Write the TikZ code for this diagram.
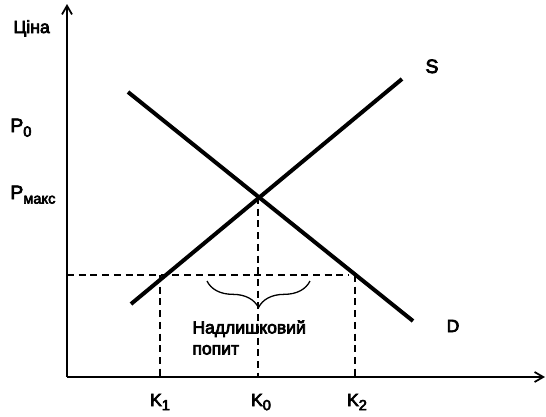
\documentclass[tikz,border=0pt]{standalone}
\usepackage{fontspec}
\setmainfont{Liberation Sans}
\newfontfamily\lblfont{Liberation Sans}[RawFeature={embolden=4}]
\usetikzlibrary{positioning,arrows.meta,decorations.pathreplacing}
\newcommand{\lowidx}[1]{\raisebox{-0.45ex}{\fontsize{12.5}{12}\selectfont #1}}

\begin{document}
\begin{tikzpicture}[x=0.03cm,y=-0.03cm,font=\lblfont\fontsize{15}{18}\selectfont,
  axis/.style ={line width=1.7pt,-{Straight Barb[length=2.6mm,width=3mm,line width=1.5pt]}},
  curve/.style={line width=3.4pt},
  guide/.style={line width=1.1pt,dash pattern=on 6pt off 4pt},
  lab/.style  ={inner sep=1pt},
  big/.style  ={lab,font=\lblfont\fontsize{16.5}{18}\selectfont},
  brc/.style  ={line width=1.1pt,decorate,decoration={brace,amplitude=0.8cm}}]
\useasboundingbox (0,0) rectangle (546,417);

% axes
\coordinate (O)    at (67,377);
\coordinate (ytop) at (67,4);
\coordinate (xend) at (545,377);
\draw[axis] (O) -- (ytop);
\draw[axis] (O) -- (xend);

% supply and demand
\coordinate (s1) at (131,304);
\coordinate (s2) at (402,79);
\coordinate (d1) at (128,92);
\coordinate (d2) at (413,321);
\draw[curve] (s1) -- (s2);
\draw[curve] (d1) -- (d2);
\coordinate (E) at (258,197);

% price ceiling and quantities
\coordinate (pm) at (67,275);
\coordinate (k1) at (160,275);
\coordinate (k2) at (355,275);
\coordinate (pe) at (349,275);
\draw[guide] (pm) -- (pe);
\draw[guide] (E) -- (E |- O);
\draw[guide] (k1) -- (k1 |- O);
\draw[guide] (k2) -- (k2 |- O);
\draw[brc] (310,281) -- (207,281);

% labels
\node[lab,anchor=base west] (cina) at (12,33)  {Ціна};
\node[big,anchor=base west] (p0)   at (9,132) {P\lowidx{0}};
\node[big,anchor=base west] (pmax) at (9,199) {P\lowidx{макс}};
\node[big,anchor=base] (sl) at (432,73)  {S};
\node[lab,anchor=base] (dl) at (453,332) {D};
\node[lab,anchor=base] (k1l) at (160,406) {K\lowidx{1}};
\node[lab,anchor=base] (k0l) at (261,406) {K\lowidx{0}};
\node[lab,anchor=base] (k2l) at (357,406) {K\lowidx{2}};
\node[lab,anchor=north west,align=left] (exc) at (191,319) {Надлишковий\\попит};
\end{tikzpicture}
\end{document}
